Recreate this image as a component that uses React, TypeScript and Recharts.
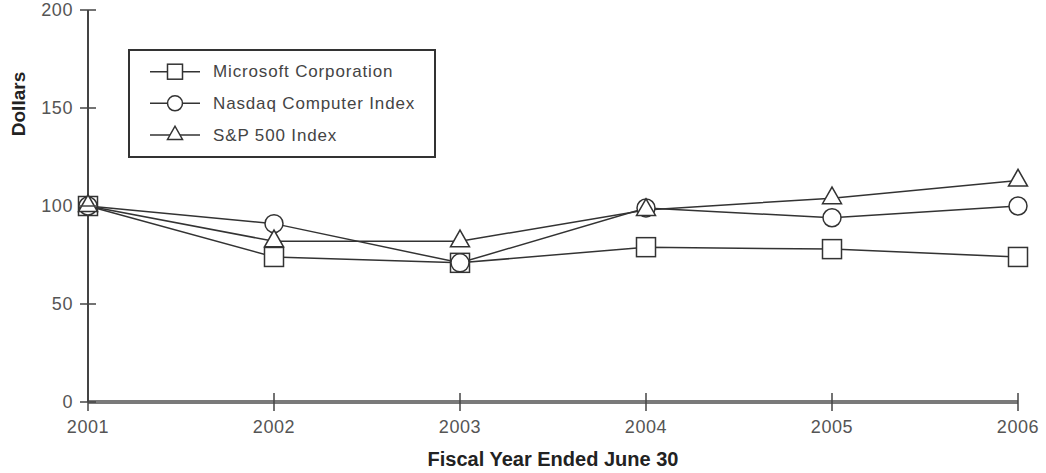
import { LineChart, Line, XAxis, YAxis, Legend } from "recharts";

const years = ["2001", "2002", "2003", "2004", "2005", "2006"];
const microsoft = [100, 74, 71, 79, 78, 74];
const nasdaq = [100, 91, 71, 99, 94, 100];
const sp500 = [100, 82, 82, 98, 104, 113];
const yTicks = [0, 50, 100, 150, 200];

const seriesNames = ["Microsoft Corporation", "Nasdaq Computer Index", "S&P 500 Index"];

const data = years.map((year, i) => ({
  year,
  microsoft: microsoft[i],
  nasdaq: nasdaq[i],
  sp500: sp500[i],
}));

const INK = "#333";
const FONT = "'Liberation Sans', Arial, sans-serif";

// marker shapes, centred on (cx, cy)
function squareShape(cx: number, cy: number, s: number, key?: string) {
  return (
    <rect key={key} x={cx - s / 2} y={cy - s / 2} width={s} height={s}
      fill="#fff" stroke={INK} strokeWidth={1.5} />
  );
}
function circleShape(cx: number, cy: number, s: number, key?: string) {
  return <circle key={key} cx={cx} cy={cy} r={s / 2} fill="#fff" stroke={INK} strokeWidth={1.5} />;
}
function triangleShape(cx: number, cy: number, s: number, key?: string) {
  const h = s * 0.88;
  const pts = `${cx - s / 2},${cy + h / 3} ${cx + s / 2},${cy + h / 3} ${cx},${cy - (2 * h) / 3}`;
  return <polygon key={key} points={pts} fill="#fff" stroke={INK} strokeWidth={1.5} strokeLinejoin="miter" />;
}

const shapes = [squareShape, circleShape, triangleShape];
const plotSizes = [19, 18, 19];

const makeDot = (idx: number) => (props: any) =>
  shapes[idx](props.cx, props.cy, plotSizes[idx], `d${idx}-${props.index}`);

function YTick({ x, y, payload }: any) {
  return (
    <g>
      <line x1={x - 8} x2={x + 8} y1={y} y2={y} stroke="#444" strokeWidth={1.5} />
      <text x={x - 15} y={y} textAnchor="end" dominantBaseline="central"
        fontFamily={FONT} fontSize={18} letterSpacing={0.6} fill="#555">
        {payload.value}
      </text>
    </g>
  );
}

function XTick({ x, y, payload }: any) {
  return (
    <g>
      <line x1={x} x2={x} y1={y - 9} y2={y + 9} stroke="#444" strokeWidth={1.5} />
      <text x={x} y={y + 25} textAnchor="middle" dominantBaseline="central"
        fontFamily={FONT} fontSize={18} letterSpacing={0.6} fill="#555">
        {payload.value}
      </text>
    </g>
  );
}

function LegendBox() {
  const rows = [22.7, 54.3, 86];
  return (
    <svg width={308} height={110} style={{ display: "block" }}>
      <rect x={1} y={1} width={306} height={107} fill="#fff" stroke={INK} strokeWidth={2} />
      {seriesNames.map((name, i) => (
        <g key={name}>
          <line x1={22} x2={72} y1={rows[i]} y2={rows[i]} stroke={INK} strokeWidth={1.5} />
          {shapes[i](47, rows[i], 15)}
          <text x={85} y={rows[i]} dominantBaseline="central" fontFamily={FONT}
            fontSize={17} letterSpacing={0.85} fill="#444">
            {name}
          </text>
        </g>
      ))}
    </svg>
  );
}

export default function App() {
  return (
    <div style={{ position: "absolute", left: 0, top: 0, background: "#fff" }}>
      <LineChart width={1046} height={473} data={data}
        margin={{ top: 10, right: 28, left: 0, bottom: 21 }}>
        <XAxis dataKey="year" height={50} tickSize={0} tickMargin={0} tick={<XTick />}
          axisLine={{ stroke: "#7a7a7a", strokeWidth: 4 }} tickLine={false} interval={0}
          label={(p: any) => (
            <text x={p.viewBox.x + p.viewBox.width / 2} y={459} textAnchor="middle"
              dominantBaseline="central" fontFamily={FONT} fontWeight="bold" fontSize={20} fill="#222">
              Fiscal Year Ended June 30
            </text>
          )} />
        <YAxis domain={[0, 200]} ticks={yTicks} width={88} tickSize={0} tickMargin={0}
          tick={<YTick />} axisLine={{ stroke: "#444", strokeWidth: 2 }} tickLine={false}
          label={() => (
            <text x={18} y={104} textAnchor="middle" dominantBaseline="central"
              transform="rotate(-90 18 104)" fontFamily={FONT} fontWeight="bold" fontSize={19} fill="#222">
              Dollars
            </text>
          )} />
        <Legend layout="vertical" align="center" verticalAlign="middle"
          wrapperStyle={{ left: 128, top: 49, width: 308, height: 110 }}
          content={() => <LegendBox />} />
        <Line dataKey="microsoft" name={seriesNames[0]} stroke={INK} strokeWidth={1.5}
          dot={makeDot(0)} activeDot={false} isAnimationActive={false} />
        <Line dataKey="nasdaq" name={seriesNames[1]} stroke={INK} strokeWidth={1.5}
          dot={makeDot(1)} activeDot={false} isAnimationActive={false} />
        <Line dataKey="sp500" name={seriesNames[2]} stroke={INK} strokeWidth={1.5}
          dot={makeDot(2)} activeDot={false} isAnimationActive={false} />
      </LineChart>
    </div>
  );
}
